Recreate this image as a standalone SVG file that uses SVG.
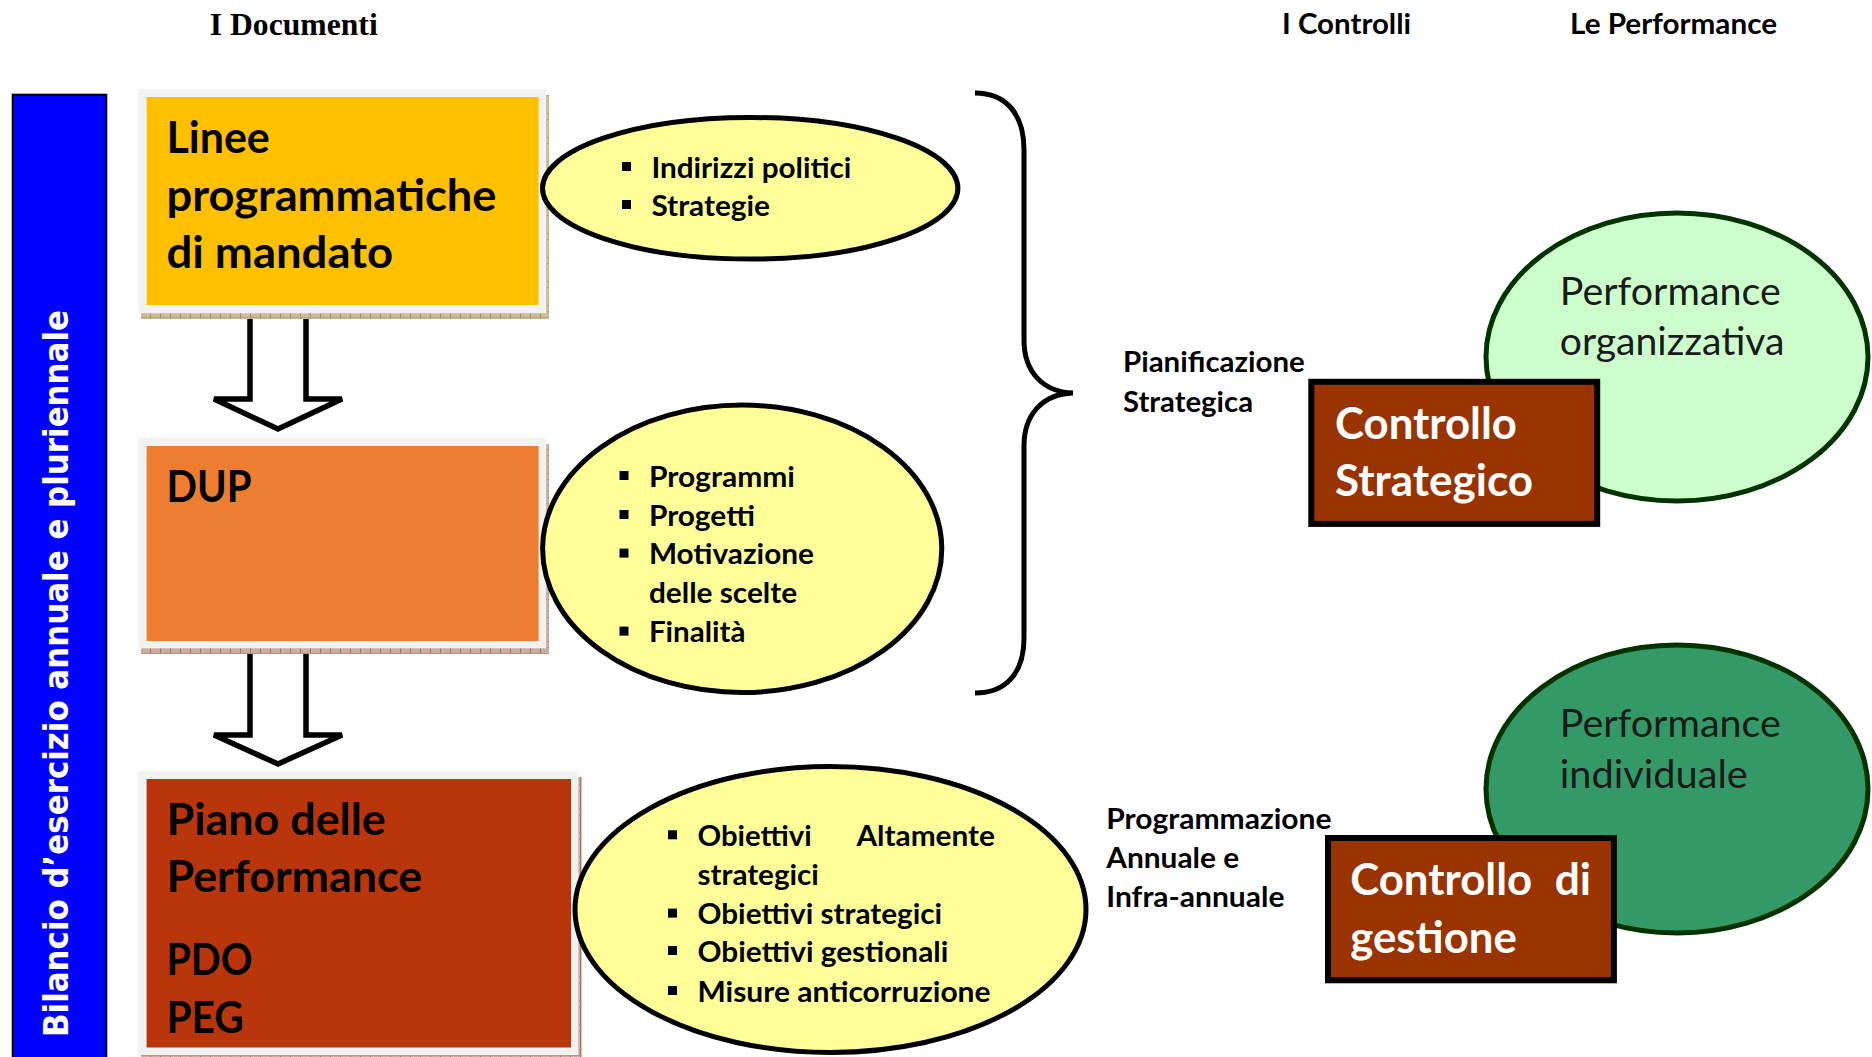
<svg xmlns="http://www.w3.org/2000/svg" width="1872" height="1057" viewBox="0 0 1872 1057">
  <style>
    .t { font-family: Lato, "Noto Sans", "Liberation Sans", sans-serif; }
    .title { font-family: Lato, "Noto Sans", "Liberation Sans", sans-serif; font-weight: 700; font-size: 43px; fill: #000; }
    .titleW { font-family: Lato, "Noto Sans", "Liberation Sans", sans-serif; font-weight: 700; font-size: 43px; fill: #fff; }
    .bul { font-family: Lato, "Noto Sans", "Liberation Sans", sans-serif; font-weight: 700; font-size: 29px; fill: #000; }
    .perf { font-family: Lato, "Noto Sans", "Liberation Sans", sans-serif; font-weight: 400; font-size: 38px; fill: #1a1a1a; }
    .head { font-family: Lato, "Noto Sans", "Liberation Sans", sans-serif; font-weight: 700; font-size: 29px; fill: #000; }
    .frame { fill: #F2F2F2; }
    .ell { fill: #FFFF99; stroke: #000; stroke-width: 5; }
    .arrow { fill: #fff; stroke: #000; stroke-width: 5.5; stroke-linejoin: miter; }
    .ctrl { fill: #993300; stroke: #000; stroke-width: 6; }
    .sq { fill: #000; }
  </style>
  <defs>
    <pattern id="tan" width="10" height="6" patternUnits="userSpaceOnUse">
      <rect width="10" height="6" fill="#CDBD96"/>
      <rect x="0" y="0" width="1" height="6" fill="#A38F62"/>
      <rect x="0" y="5" width="10" height="1" fill="#B8A57A"/>
    </pattern>
    <pattern id="rose" width="10" height="6" patternUnits="userSpaceOnUse">
      <rect width="10" height="6" fill="#CDAE9C"/>
      <rect x="0" y="0" width="1" height="6" fill="#9C7462"/>
      <rect x="0" y="5" width="10" height="1" fill="#B89484"/>
    </pattern>
  </defs>

  <rect width="1872" height="1057" fill="#fff"/>

  <!-- headers -->
  <g id="headers">
    <text x="209.7" y="35" font-family="'Liberation Serif', 'Times New Roman', serif" font-weight="700" font-size="31" textLength="168" lengthAdjust="spacingAndGlyphs">I Documenti</text>
    <text class="head" x="1282" y="34.4" textLength="129" lengthAdjust="spacingAndGlyphs">I Controlli</text>
    <text class="head" x="1570" y="34.4" textLength="207" lengthAdjust="spacingAndGlyphs">Le Performance</text>
  </g>

  <!-- side bar -->
  <g id="bar">
    <rect x="12.7" y="94.7" width="93.6" height="970" fill="#0000FF" stroke="#000" stroke-width="2"/>
    <text transform="translate(68,1037) rotate(-90)" x="0" y="0" font-family="'DejaVu Sans', Verdana, sans-serif" font-weight="700" font-size="34" fill="#fff" textLength="727" lengthAdjust="spacingAndGlyphs">Bilancio d’esercizio annuale e pluriennale</text>
  </g>

  <!-- connectors -->
  <g id="connectors">
    <path class="arrow" d="M250,305 V399 H214 L278,429 L342,399 H306 V305"/>
    <path class="arrow" d="M250,640 V735 H214 L278,764 L342,735 H306 V640"/>
    <path d="M975,93 C1006,93 1024,114 1024,150 L1024,340 C1024,372 1043,392 1073,393 C1043,394 1024,414 1024,446 L1024,638 C1024,673 1006,693 975,693" fill="none" stroke="#000" stroke-width="5"/>
  </g>

  <!-- document boxes -->
  <g id="box-linee">
    <rect x="141" y="95" width="408" height="224" fill="url(#tan)"/>
    <rect class="frame" x="138.2" y="89.3" width="408" height="224"/>
    <rect x="146.6" y="97" width="392" height="208" fill="#FFC000"/>
    <text class="title" x="166.5" y="152.7" textLength="103.3" lengthAdjust="spacingAndGlyphs">Linee</text>
    <text class="title" x="166.5" y="210.5" textLength="330" lengthAdjust="spacingAndGlyphs">programmatiche</text>
    <text class="title" x="166.5" y="268.3" textLength="226.5" lengthAdjust="spacingAndGlyphs">di mandato</text>
  </g>

  <g id="box-dup">
    <rect x="141" y="444" width="408" height="210" fill="url(#rose)"/>
    <rect class="frame" x="138.2" y="437.7" width="408" height="210.6"/>
    <rect x="146.6" y="446" width="392" height="195" fill="#ED7D31"/>
    <text class="title" x="166.5" y="501.7" textLength="85" lengthAdjust="spacingAndGlyphs">DUP</text>
  </g>

  <g id="box-piano">
    <rect x="141" y="777" width="440.7" height="283" fill="url(#rose)"/>
    <rect class="frame" x="138.2" y="771" width="440.2" height="284"/>
    <rect x="146.6" y="779" width="424.4" height="268.5" fill="#B9360D"/>
    <text class="title" x="166.5" y="835" textLength="219.3" lengthAdjust="spacingAndGlyphs">Piano delle</text>
    <text class="title" x="166.5" y="892.3" textLength="255.6" lengthAdjust="spacingAndGlyphs">Performance</text>
    <text class="title" x="166.5" y="975" textLength="86" lengthAdjust="spacingAndGlyphs">PDO</text>
    <text class="title" x="166.5" y="1033.3" textLength="77.3" lengthAdjust="spacingAndGlyphs">PEG</text>
  </g>

  <!-- ellipses -->
  <g id="ell-linee">
    <ellipse class="ell" cx="750.2" cy="188.3" rx="207.7" ry="70.8"/>
    <rect class="sq" x="622" y="162" width="9" height="9"/>
    <text class="bul" x="651.4" y="177.7" textLength="200" lengthAdjust="spacingAndGlyphs">Indirizzi politici</text>
    <rect class="sq" x="622" y="200" width="9" height="9"/>
    <text class="bul" x="651.4" y="215.7" textLength="118.6" lengthAdjust="spacingAndGlyphs">Strategie</text>
  </g>

  <g id="ell-dup">
    <ellipse class="ell" cx="742.2" cy="548.8" rx="199.6" ry="143.7"/>
    <rect class="sq" x="619.5" y="471" width="9" height="9"/>
    <text class="bul" x="648.9" y="486.7" textLength="146.1" lengthAdjust="spacingAndGlyphs">Programmi</text>
    <rect class="sq" x="619.5" y="510" width="9" height="9"/>
    <text class="bul" x="648.9" y="525.7" textLength="106.1" lengthAdjust="spacingAndGlyphs">Progetti</text>
    <rect class="sq" x="619.5" y="548.6" width="9" height="9"/>
    <text class="bul" x="648.9" y="564.3" textLength="165" lengthAdjust="spacingAndGlyphs">Motivazione</text>
    <text class="bul" x="648.9" y="602.7" textLength="148.2" lengthAdjust="spacingAndGlyphs">delle scelte</text>
    <rect class="sq" x="619.5" y="626.6" width="9" height="9"/>
    <text class="bul" x="648.9" y="642.3" textLength="96.5" lengthAdjust="spacingAndGlyphs">Finalità</text>
  </g>

  <g id="ell-piano">
    <ellipse class="ell" cx="830.5" cy="909.5" rx="255.5" ry="143"/>
    <rect class="sq" x="668" y="830.3" width="9" height="9"/>
    <text class="bul" x="697.5" y="846" textLength="114.3" lengthAdjust="spacingAndGlyphs">Obiettivi</text>
    <text class="bul" x="856.4" y="846" textLength="138.6" lengthAdjust="spacingAndGlyphs">Altamente</text>
    <text class="bul" x="697.5" y="885" textLength="121.4" lengthAdjust="spacingAndGlyphs">strategici</text>
    <rect class="sq" x="668" y="908.6" width="9" height="9"/>
    <text class="bul" x="697.5" y="924.3" textLength="244.6" lengthAdjust="spacingAndGlyphs">Obiettivi strategici</text>
    <rect class="sq" x="668" y="946" width="9" height="9"/>
    <text class="bul" x="697.5" y="961.7" textLength="250.7" lengthAdjust="spacingAndGlyphs">Obiettivi gestionali</text>
    <rect class="sq" x="668" y="986" width="9" height="9"/>
    <text class="bul" x="697.5" y="1001.7" textLength="293" lengthAdjust="spacingAndGlyphs">Misure anticorruzione</text>
  </g>

  <!-- side labels -->
  <g id="label-pianificazione">
    <text class="head" x="1123" y="371.9" textLength="181.8" lengthAdjust="spacingAndGlyphs">Pianificazione</text>
    <text class="head" x="1123" y="411.5" textLength="130" lengthAdjust="spacingAndGlyphs">Strategica</text>
  </g>
  <g id="label-programmazione">
    <text class="head" x="1106.3" y="829.3" textLength="225.2" lengthAdjust="spacingAndGlyphs">Programmazione</text>
    <text class="head" x="1106.3" y="868.3" textLength="132.8" lengthAdjust="spacingAndGlyphs">Annuale e</text>
    <text class="head" x="1106.3" y="906.7" textLength="178.2" lengthAdjust="spacingAndGlyphs">Infra-annuale</text>
  </g>

  <!-- performance circles -->
  <g id="perf-organizzativa">
    <ellipse cx="1677" cy="357" rx="191" ry="144" fill="#CCFFCC" stroke="#003300" stroke-width="5"/>
    <text class="perf" x="1559.8" y="304.8" textLength="221" lengthAdjust="spacingAndGlyphs">Performance</text>
    <text class="perf" x="1559.8" y="354.7" textLength="224.7" lengthAdjust="spacingAndGlyphs">organizzativa</text>
  </g>
  <g id="perf-individuale">
    <ellipse cx="1677" cy="789" rx="191" ry="144" fill="#339966" stroke="#003300" stroke-width="5"/>
    <text class="perf" x="1559.8" y="736.7" textLength="221" lengthAdjust="spacingAndGlyphs">Performance</text>
    <text class="perf" x="1559.8" y="788.3" textLength="188" lengthAdjust="spacingAndGlyphs">individuale</text>
  </g>

  <!-- controls -->
  <g id="ctrl-strategico">
    <rect class="ctrl" x="1311.3" y="381.8" width="285.9" height="142.1"/>
    <text class="titleW" x="1335" y="439" textLength="182" lengthAdjust="spacingAndGlyphs">Controllo</text>
    <text class="titleW" x="1335" y="495.9" textLength="198" lengthAdjust="spacingAndGlyphs">Strategico</text>
  </g>
  <g id="ctrl-gestione">
    <rect class="ctrl" x="1328" y="838" width="285.9" height="142.3"/>
    <text class="titleW" x="1350.2" y="895" textLength="182" lengthAdjust="spacingAndGlyphs">Controllo</text>
    <text class="titleW" x="1554.7" y="895" textLength="36.4" lengthAdjust="spacingAndGlyphs">di</text>
    <text class="titleW" x="1350.2" y="953.3" textLength="166.7" lengthAdjust="spacingAndGlyphs">gestione</text>
  </g>
</svg>
